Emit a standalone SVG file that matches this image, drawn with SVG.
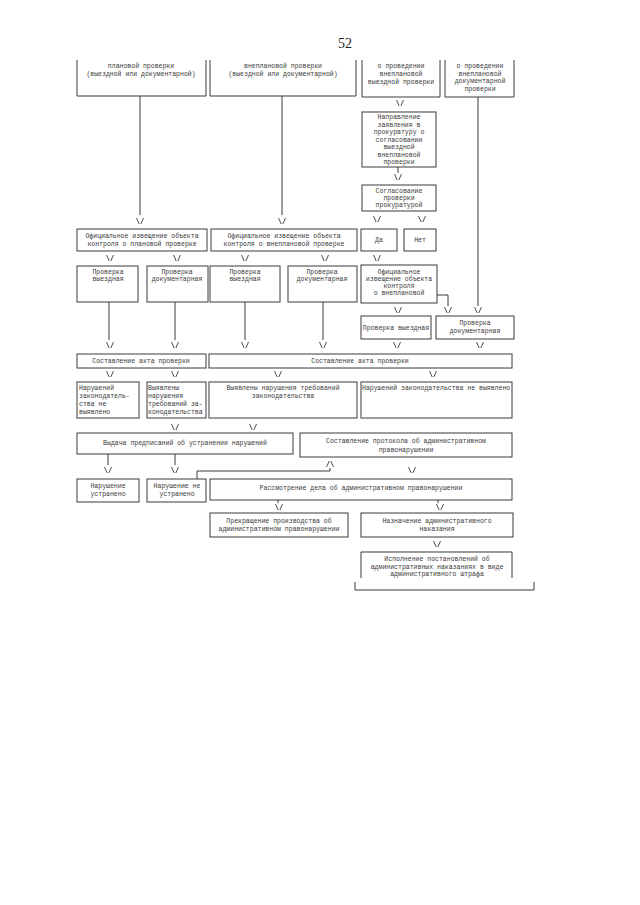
<svg xmlns="http://www.w3.org/2000/svg" width="640" height="905" viewBox="0 0 640 905">
<style>
.b{fill:none;stroke:#3a3a3a;stroke-width:1}
.c{fill:none;stroke:#3a3a3a;stroke-width:1}
.t{font-family:"Liberation Mono","DejaVu Sans Mono",monospace;font-size:6.5px;fill:#3a3a3a;text-anchor:middle}
.l{text-anchor:start}
.pn{font-family:"Liberation Serif",serif;font-size:14px;fill:#222;text-anchor:middle}
</style>
<defs>
<path id="ad" d="M-3.5,-3 L-0.8,3 M0.8,3 L3.5,-3" fill="none" stroke="#3a3a3a" stroke-width="0.9"/>
<path id="au" d="M-3.5,3 L-0.8,-3 M0.8,-3 L3.5,3" fill="none" stroke="#3a3a3a" stroke-width="0.9"/>
</defs>
<rect width="640" height="905" fill="#fff"/>
<text class="pn" x="345" y="48">52</text>

<g id="n1"><path class="b" d="M77,60 V96 H206 V60"/>
<text class="t" x="141" y="68">плановой проверки</text>
<text class="t" x="141" y="76">(выездной или документарной)</text></g>
<g id="n2"><path class="b" d="M210,60 V96 H356 V60"/>
<text class="t" x="283" y="68">внеплановой проверки</text>
<text class="t" x="283" y="76">(выездной или документарной)</text></g>
<g id="n3"><path class="b" d="M362,60 V97 H440 V60"/>
<text class="t" x="401" y="68">о проведении</text>
<text class="t" x="401" y="76">внеплановой</text>
<text class="t" x="401" y="84">выездной проверки</text></g>
<g id="n4"><path class="b" d="M445,60 V97 H514 V60"/>
<text class="t" x="480" y="68">о проведении</text>
<text class="t" x="480" y="75.5">внеплановой</text>
<text class="t" x="480" y="83">документарной</text>
<text class="t" x="480" y="90.5">проверки</text></g>
<g id="n5"><rect class="b" x="362" y="112" width="74" height="55"/>
<text class="t" x="399" y="119">Направление</text>
<text class="t" x="399" y="126.5">заявления в</text>
<text class="t" x="399" y="134">прокуратуру о</text>
<text class="t" x="399" y="141.5">согласовании</text>
<text class="t" x="399" y="149">выездной</text>
<text class="t" x="399" y="156.5">внеплановой</text>
<text class="t" x="399" y="164">проверки</text></g>
<g id="n6"><rect class="b" x="362" y="185" width="74" height="26"/>
<text class="t" x="399" y="193">Согласование</text>
<text class="t" x="399" y="200">проверки</text>
<text class="t" x="399" y="207">прокуратурой</text></g>
<g id="n7"><rect class="b" x="77" y="229" width="130" height="22"/>
<text class="t" x="142" y="238">Официальное извещение объекта</text>
<text class="t" x="142" y="246">контроля о плановой проверке</text></g>
<g id="n8"><rect class="b" x="211" y="229" width="146" height="22"/>
<text class="t" x="284" y="238">Официальное извещение объекта</text>
<text class="t" x="284" y="246">контроля о внеплановой проверке</text></g>
<g id="n9"><rect class="b" x="361" y="229" width="36" height="22"/>
<text class="t" x="379" y="242">Да</text></g>
<g id="n10"><rect class="b" x="404" y="229" width="32" height="22"/>
<text class="t" x="420" y="242">Нет</text></g>
<g id="n11"><rect class="b" x="77" y="266" width="61" height="36"/>
<text class="t" x="108" y="274">Проверка</text>
<text class="t" x="108" y="281">выездная</text></g>
<g id="n12"><rect class="b" x="147" y="266" width="61" height="36"/>
<text class="t" x="177" y="274">Проверка</text>
<text class="t" x="177" y="281">документарная</text></g>
<g id="n13"><rect class="b" x="210" y="266" width="70" height="36"/>
<text class="t" x="245" y="274">Проверка</text>
<text class="t" x="245" y="281">выездная</text></g>
<g id="n14"><rect class="b" x="288" y="266" width="69" height="36"/>
<text class="t" x="322" y="274">Проверка</text>
<text class="t" x="322" y="281">документарная</text></g>
<g id="n15"><rect class="b" x="361" y="265" width="76" height="38"/>
<text class="t" x="399" y="274">Официальное</text>
<text class="t" x="399" y="281">извещение объекта</text>
<text class="t" x="399" y="288">контроля</text>
<text class="t" x="399" y="295">о внеплановой</text></g>
<g id="n16"><rect class="b" x="361" y="316" width="70" height="23"/>
<text class="t" x="396" y="329.5">Проверка выездная</text></g>
<g id="n17"><rect class="b" x="436" y="316" width="78" height="23"/>
<text class="t" x="475" y="325">Проверка</text>
<text class="t" x="475" y="332.5">документарная</text></g>
<g id="n18"><rect class="b" x="77" y="354" width="129" height="14"/>
<text class="t" x="141" y="363">Составление акта проверки</text></g>
<g id="n19"><rect class="b" x="209" y="354" width="303" height="14"/>
<text class="t" x="360" y="363">Составление акта проверки</text></g>
<g id="n20"><rect class="b" x="77" y="382" width="62" height="36"/>
<text class="t l" x="79" y="390">Нарушений</text>
<text class="t l" x="79" y="398">законодатель-</text>
<text class="t l" x="79" y="406">ства не</text>
<text class="t l" x="79" y="414">выявлено</text></g>
<g id="n21"><rect class="b" x="147" y="382" width="59" height="36"/>
<text class="t l" x="148" y="390">Выявлены</text>
<text class="t l" x="148" y="398">нарушения</text>
<text class="t l" x="148" y="406">требований за-</text>
<text class="t l" x="148" y="414">конодательства</text></g>
<g id="n22"><rect class="b" x="209" y="382" width="148" height="36"/>
<text class="t" x="283" y="390">Выявлены нарушения требований</text>
<text class="t" x="283" y="398">законодательства</text></g>
<g id="n23"><rect class="b" x="361" y="382" width="151" height="36"/>
<text class="t l" x="362" y="390">Нарушений законодательства не выявлено</text></g>
<g id="n24"><rect class="b" x="77" y="433" width="216" height="21"/>
<text class="t" x="185" y="445">Выдача предписаний об устранении нарушений</text></g>
<g id="n25"><rect class="b" x="300" y="433" width="212" height="24"/>
<text class="t" x="406" y="443">Составление протокола об административном</text>
<text class="t" x="406" y="452">правонарушении</text></g>
<g id="n26"><rect class="b" x="77" y="479" width="62" height="23"/>
<text class="t" x="108" y="488">Нарушение</text>
<text class="t" x="108" y="496">устранено</text></g>
<g id="n27"><rect class="b" x="147" y="479" width="59" height="23"/>
<text class="t" x="177" y="488">Нарушение не</text>
<text class="t" x="177" y="496">устранено</text></g>
<g id="n28"><rect class="b" x="210" y="479" width="302" height="21"/>
<text class="t" x="361" y="490">Рассмотрение дела об административном правонарушении</text></g>
<g id="n29"><rect class="b" x="210" y="513" width="138" height="24"/>
<text class="t" x="279" y="523">Прекращение производства об</text>
<text class="t" x="279" y="531">административном правонарушении</text></g>
<g id="n30"><rect class="b" x="361" y="513" width="152" height="24"/>
<text class="t" x="437" y="523">Назначение административного</text>
<text class="t" x="437" y="531">наказания</text></g>
<g id="n31"><path class="b" d="M361,578 V552 H512 V578"/>
<text class="t" x="437" y="561">Исполнение постановлений об</text>
<text class="t" x="437" y="568.5">административных наказаниях в виде</text>
<text class="t" x="437" y="576">административного штрафа</text></g>

<g id="connectors">
<path class="c" d="M140,96 V215 M282,96 V215 M478,97 V306 M398,167 V173"/>
<path class="c" d="M437,295 H448 V306"/>
<path class="c" d="M109,302 V340 M175,302 V340 M245,302 V340 M323,302 V340"/>
<path class="c" d="M108,454 V465 M175,454 V465"/>
<path class="c" d="M197,479 V471 H330 V468"/>
<path class="c" d="M278,500 V503 M438,500 V503"/>
<path class="c" d="M355,582 V590 H534 V582"/>
<use href="#ad" x="140" y="221"/>
<use href="#ad" x="282" y="221"/>
<use href="#ad" x="400" y="103"/>
<use href="#ad" x="398" y="177"/>
<use href="#ad" x="377" y="219"/>
<use href="#ad" x="422" y="219"/>
<use href="#ad" x="110" y="258"/>
<use href="#ad" x="177" y="258"/>
<use href="#ad" x="245" y="258"/>
<use href="#ad" x="325" y="258"/>
<use href="#ad" x="377" y="258"/>
<use href="#ad" x="398" y="310"/>
<use href="#ad" x="448" y="310"/>
<use href="#ad" x="478" y="310"/>
<use href="#ad" x="110" y="345"/>
<use href="#ad" x="175" y="345"/>
<use href="#ad" x="245" y="345"/>
<use href="#ad" x="323" y="345"/>
<use href="#ad" x="397" y="345"/>
<use href="#ad" x="480" y="345"/>
<use href="#ad" x="110" y="374"/>
<use href="#ad" x="175" y="374"/>
<use href="#ad" x="278" y="374"/>
<use href="#ad" x="433" y="374"/>
<use href="#ad" x="175" y="427"/>
<use href="#ad" x="253" y="427"/>
<use href="#ad" x="108" y="470"/>
<use href="#ad" x="175" y="470"/>
<use href="#ad" x="412" y="470"/>
<use href="#au" x="330" y="464"/>
<use href="#ad" x="279" y="507"/>
<use href="#ad" x="440" y="507"/>
<use href="#ad" x="437" y="544"/>
</g>
</svg>
